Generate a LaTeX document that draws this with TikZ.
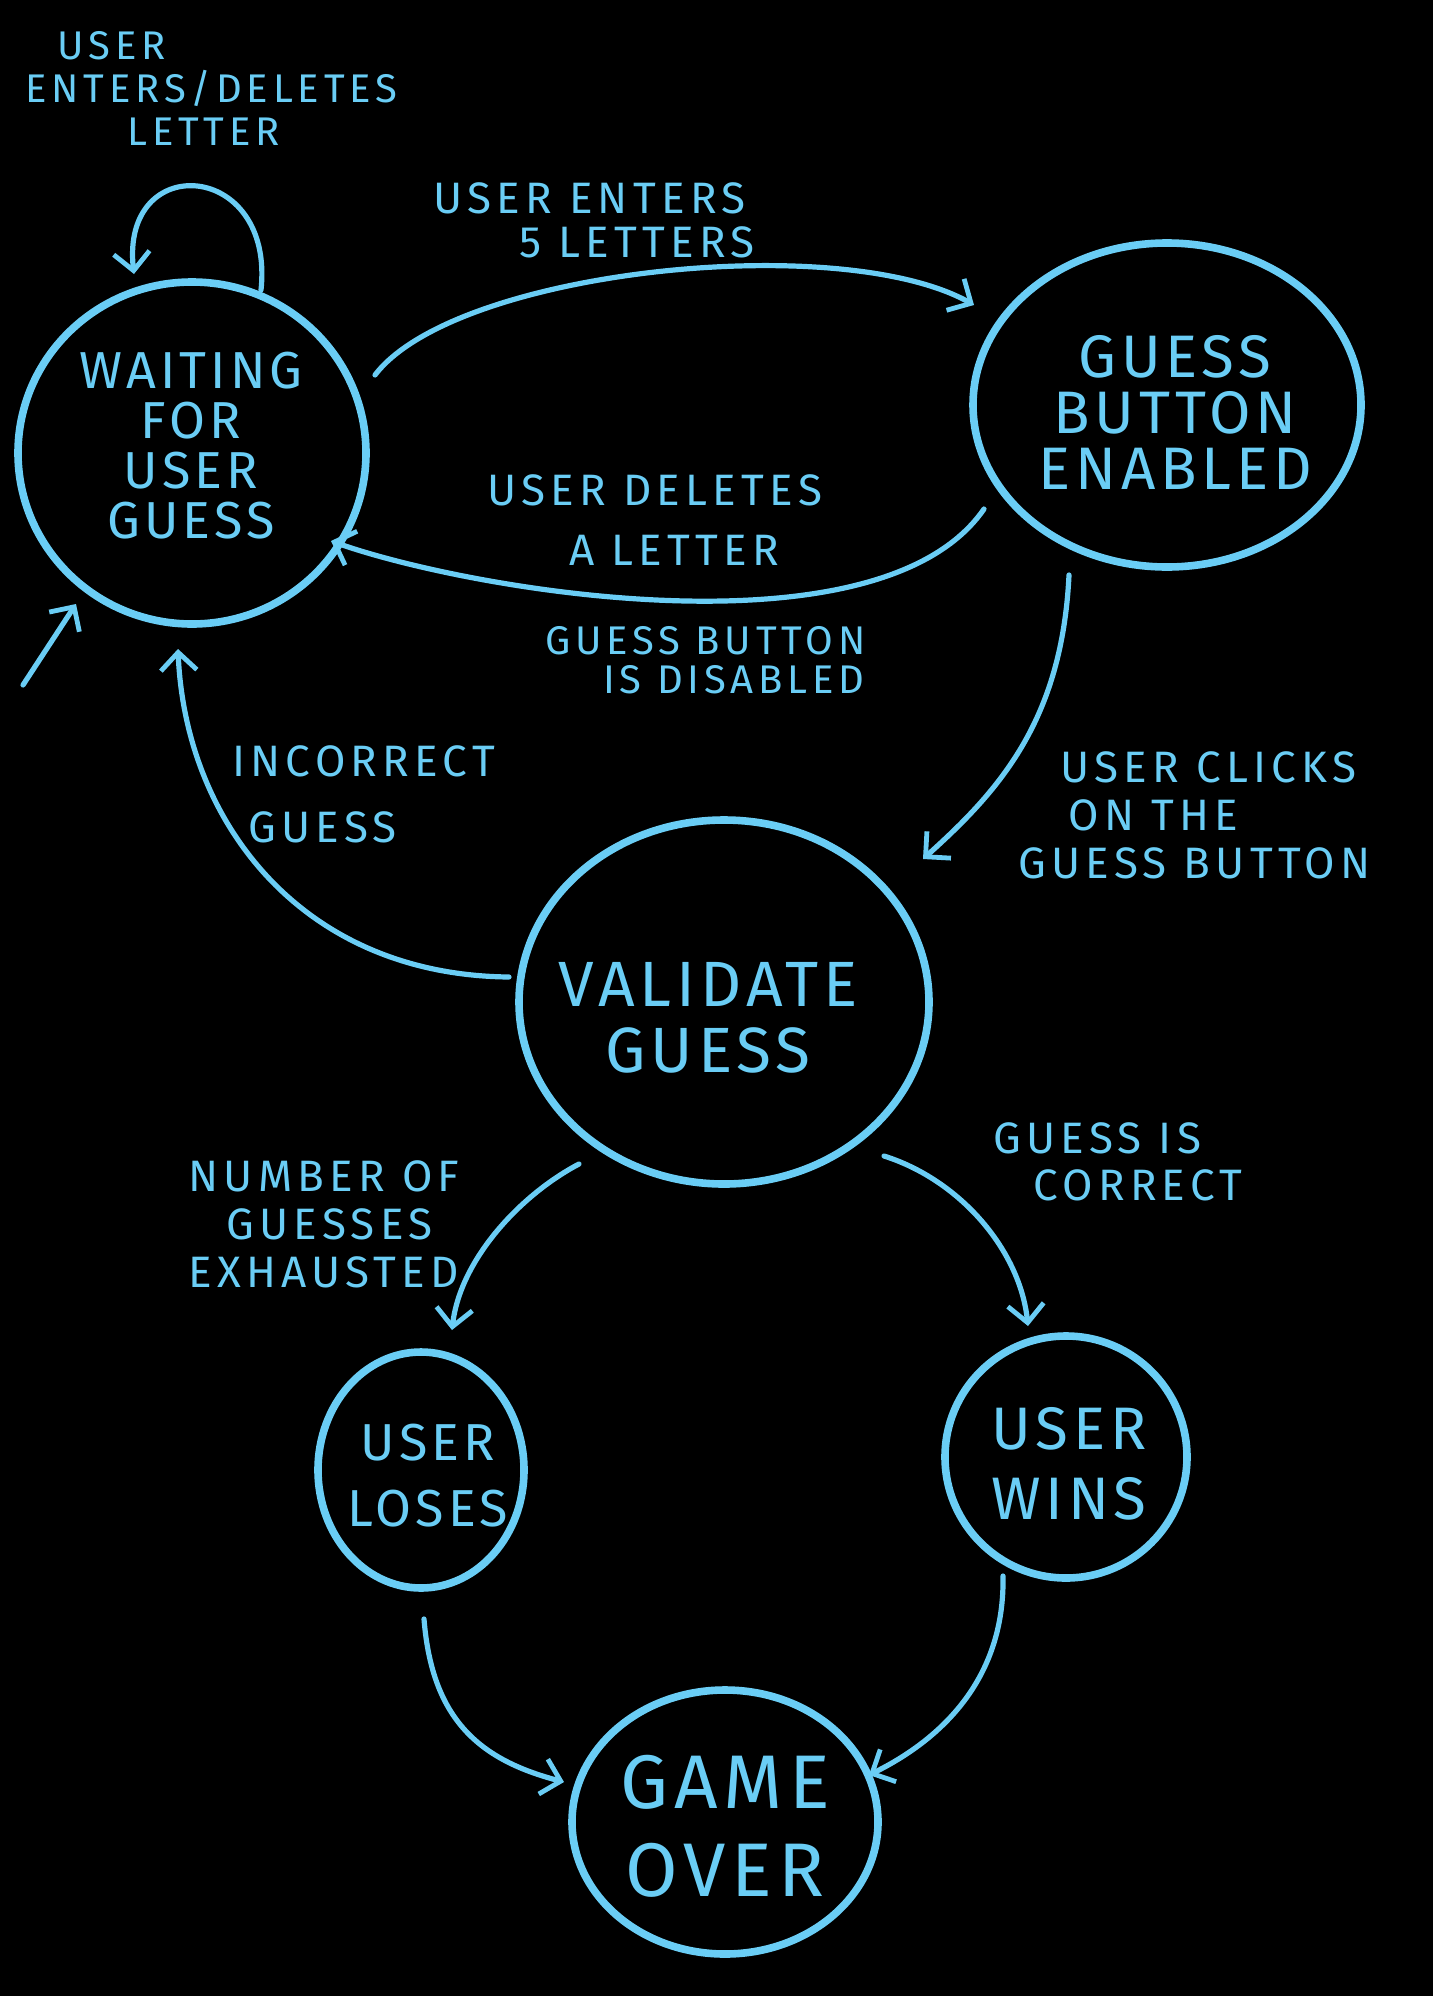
\documentclass[tikz,border=0pt]{standalone}
\usepackage{fontspec}
\setmainfont{Fira Sans}[LetterSpace=8]
\newfontfamily\lblfont{Fira Sans}[LetterSpace=12]
\usetikzlibrary{shapes.geometric,arrows.meta,calc}
\definecolor{chalk}{HTML}{6ACDF5}
\begin{document}
\begin{tikzpicture}[x=0.5pt,y=-0.5pt,
  state/.style={ellipse, draw=chalk, line width=3.8pt, inner sep=0pt},
  arr/.style={draw=chalk, line width=2.6pt, line cap=round,
    -{Straight Barb[length=9pt,width=18pt,line width=2.4pt]}},
  lbl/.style={text=chalk, align=left, anchor=west, inner sep=0pt},
  stxt/.style={text=chalk, align=center}]
\fill[black] (0,0) rectangle (1433,1996);
\useasboundingbox (0,0) rectangle (1433,1996);

% states
\node[state, minimum width=174pt, minimum height=171pt] (waiting) at (192,453) {};
\node[state, minimum width=194pt, minimum height=162pt] (button) at (1167,405) {};
\node[state, minimum width=205pt, minimum height=182pt] (validate) at (724,1002) {};
\node[state, minimum width=103pt, minimum height=118pt] (loses) at (421,1470) {};
\node[state, minimum width=121pt, minimum height=121pt] (wins) at (1066,1457) {};
\node[state, minimum width=153pt, minimum height=132pt] (over) at (725,1822) {};

% state texts
\node[stxt, font=\fontsize{26}{25}\selectfont] (waitingtxt) at (191,446) {WAITING\\FOR\\USER\\GUESS};
\node[stxt, font=\fontsize{30}{28}\selectfont] (buttontxt) at (1175,412) {GUESS\\BUTTON\\ENABLED};
\node[stxt, font=\fontsize{32}{33}\selectfont] (validatetxt) at (708,1018) {VALIDATE\\GUESS};
\node[stxt, font=\fontsize{26}{33}\selectfont] (losestxt) at (428,1476) {USER\\LOSES};
\node[stxt, font=\fontsize{30}{35}\selectfont] (winstxt) at (1069,1464) {USER\\WINS};
\node[stxt, font=\fontsize{38}{44}\selectfont] (overtxt) at (725,1826) {GAME\\OVER};

% transition labels
\node[lbl, font=\lblfont\fontsize{20}{21.5}\selectfont] (looplbl) at (25,88)
  {\hspace{16pt}USER\\ENTERS/DELETES\\\hspace{51pt}LETTER};
\node[lbl, font=\lblfont\fontsize{22}{22}\selectfont] (toplbl) at (433,220)
  {USER ENTERS\\\hspace{43pt}5 LETTERS};
\node[lbl, font=\lblfont\fontsize{22}{30}\selectfont] (dellbl) at (487,520)
  {USER DELETES\\\hspace{41pt}A LETTER};
\node[lbl, font=\lblfont\fontsize{20}{19.5}\selectfont] (dislbl) at (545,660)
  {GUESS BUTTON\\\hspace{29pt}IS DISABLED};
\node[lbl, font=\lblfont\fontsize{22}{24}\selectfont] (clicklbl) at (1018,815)
  {\hspace{21pt}USER CLICKS\\\hspace{25pt}ON THE\\GUESS BUTTON};
\node[lbl, font=\lblfont\fontsize{22}{33}\selectfont] (inclbl) at (232,794)
  {INCORRECT\\\hspace{8pt}GUESS};
\node[lbl, font=\lblfont\fontsize{22}{24}\selectfont] (numlbl) at (188,1224)
  {NUMBER OF\\\hspace{19pt}GUESSES\\EXHAUSTED};
\node[lbl, font=\lblfont\fontsize{22}{23.5}\selectfont] (corrlbl) at (993,1162)
  {GUESS IS\\\hspace{20pt}CORRECT};

% connectors
\draw[arr] ($(waiting)+(69,-163)$) .. controls +(14,-130) and +(-14,-124) .. ($(waiting)+(-58,-179)$);
\draw[arr] ($(waiting)+(183,-78)$) .. controls +(80,-105) and +(-134,-75) .. ($(button)+(-193,-100)$);
\draw[arr] ($(button)+(-183,104)$) .. controls +(-104,151) and +(140,50) .. ($(waiting)+(139,88)$);
\draw[arr] ($(button)+(-98,170)$) .. controls +(-7,145) and +(77,-69) .. ($(validate)+(199,-143)$);
\draw[arr] ($(validate)+(-215,-25)$) .. controls +(-209,-2) and +(7,171) .. ($(waiting)+(-14,196)$);
\coordinate (init) at (23,685);
\draw[arr] (init) -- ($(waiting)+(-116,151)$);
\draw[arr] ($(validate)+(-145,162)$) .. controls +(-59,31) and +(8,-70) .. ($(loses)+(31,-140)$);
\draw[arr] ($(validate)+(160,154)$) .. controls +(76,24) and +(-8,-76) .. ($(wins)+(-38,-131)$);
\draw[arr] ($(loses)+(3,149)$) .. controls +(8,101) and +(-84,-22) .. ($(over)+(-161,-40)$);
\draw[arr] ($(wins)+(-63,119)$) .. controls +(2,104) and +(71,-35) .. ($(over)+(144,-47)$);
\end{tikzpicture}
\end{document}
